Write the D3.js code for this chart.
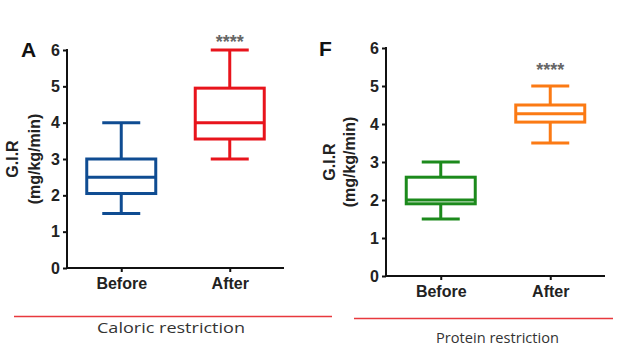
<!DOCTYPE html>
<html><head><meta charset="utf-8">
<script src="https://cdn.jsdelivr.net/npm/d3@7"></script>
<style>body{margin:0;background:#fff}svg{display:block}</style>
</head><body>
<svg id="c" width="622" height="360"></svg>
<script>
const groups = ["Before", "After"];
const yTicks = [0, 1, 2, 3, 4, 5, 6];
// box stats: [min, q1, median, q3, max]
const caloricStats = [[1.5, 2.05, 2.5, 3.0, 4.0], [3.0, 3.55, 4.0, 4.95, 6.0]];
const proteinStats = [[1.5, 1.9, 2.0, 2.6, 3.0], [3.5, 4.05, 4.27, 4.5, 5.0]];
const caloricColors = ["#0f4c92", "#e8141c"];
const proteinColors = ["#1c8a1c", "#fb7a14"];
const panelLetters = ["A", "F"];
const significance = ["****", "****"];
const captions = ["Caloric restriction", "Protein restriction"];
const yLabel = ["G.I.R", "(mg/kg/min)"];

const svg = d3.select("#c");

function panel(cfg) {
  const g = svg.append("g");
  const y = d3.scaleLinear().domain([0, 6]).range([cfg.y0, cfg.y6]);
  const x = d3.scalePoint().domain(groups).range([cfg.x0, cfg.x1]).padding(0.5);

  const ya = g.append("g").attr("transform", `translate(${cfg.x0},0)`)
    .call(d3.axisLeft(y).tickValues(yTicks).tickSize(4).tickPadding(3).tickFormat(d3.format("d")));
  const xa = g.append("g").attr("transform", `translate(0,${cfg.y0})`)
    .call(d3.axisBottom(x).tickSize(4).tickPadding(6));
  [ya, xa].forEach(a => {
    a.select(".domain").attr("stroke", "#111").attr("stroke-width", 2);
    a.selectAll(".tick line").attr("stroke", "#111").attr("stroke-width", 2);
    a.selectAll("text").attr("font-family", "Liberation Sans, Arial, sans-serif")
      .attr("font-weight", "bold").attr("fill", "#222");
  });
  ya.selectAll("text").attr("font-size", 16);
  xa.selectAll("text").attr("font-size", 16);
  ya.select(".domain").attr("d", `M0,${cfg.y0}V${cfg.y6 - 1}`);
  xa.select(".domain").attr("d", `M${cfg.x0 - 1},0H${cfg.x1}`);

  const bw = 69, cw = 38;
  cfg.stats.forEach((s, i) => {
    const cx = x(groups[i]);
    const c = cfg.colors[i];
    const b = g.append("g").attr("stroke", c).attr("stroke-width", 3).attr("fill", "none");
    b.append("line").attr("x1", cx).attr("x2", cx).attr("y1", y(s[0])).attr("y2", y(s[1]));
    b.append("line").attr("x1", cx).attr("x2", cx).attr("y1", y(s[3])).attr("y2", y(s[4]));
    b.append("line").attr("x1", cx - cw / 2).attr("x2", cx + cw / 2).attr("y1", y(s[0])).attr("y2", y(s[0]));
    b.append("line").attr("x1", cx - cw / 2).attr("x2", cx + cw / 2).attr("y1", y(s[4])).attr("y2", y(s[4]));
    b.append("rect").attr("x", cx - bw / 2).attr("width", bw).attr("y", y(s[3])).attr("height", y(s[1]) - y(s[3]));
    b.append("line").attr("x1", cx - bw / 2).attr("x2", cx + bw / 2).attr("y1", y(s[2])).attr("y2", y(s[2]));
  });

  g.append("text").attr("x", x("After")).attr("y", cfg.starY).attr("text-anchor", "middle")
    .attr("font-family", "Liberation Sans, Arial, sans-serif").attr("font-size", 18).attr("font-weight", "bold")
    .attr("fill", "#666").text(cfg.star);

  g.append("text").attr("x", cfg.letterX).attr("y", cfg.letterY)
    .attr("font-family", "Liberation Sans, Arial, sans-serif").attr("font-size", 21).attr("font-weight", "bold")
    .attr("fill", "#111").text(cfg.letter);

  const yc = (cfg.y0 + cfg.y6) / 2;
  yLabel.forEach((t, k) => {
    g.append("text").attr("transform", `translate(${cfg.labX[k]},${yc}) rotate(-90)`)
      .attr("text-anchor", "middle")
      .attr("font-family", "Liberation Sans, Arial, sans-serif").attr("font-size", 16).attr("font-weight", "bold")
      .attr("fill", "#222").text(t);
  });

  g.append("line").attr("x1", cfg.lineX0).attr("x2", cfg.lineX1).attr("y1", cfg.lineY).attr("y2", cfg.lineY)
    .attr("stroke", "#e8393d").attr("stroke-width", 1.5);
  g.append("text").attr("x", (cfg.lineX0 + cfg.lineX1) / 2 + cfg.capDx).attr("y", cfg.capY).attr("text-anchor", "middle")
    .attr("font-family", "Open Sans, sans-serif").attr("font-size", cfg.capSize).attr("fill", "#333")
    .attr("textLength", cfg.capLen).attr("lengthAdjust", "spacingAndGlyphs")
    .text(cfg.caption);
}

panel({x0: 67, x1: 284, y0: 268, y6: 50, stats: caloricStats, colors: caloricColors,
  star: significance[0], starY: 48, letter: panelLetters[0], letterX: 21, letterY: 57, labX: [18, 40],
  lineX0: 14, lineX1: 332, lineY: 316.5, capY: 333, capDx: -2, capSize: 15, capLen: 148, caption: captions[0]});
panel({x0: 386, x1: 605, y0: 276, y6: 48, stats: proteinStats, colors: proteinColors,
  star: significance[1], starY: 76, letter: panelLetters[1], letterX: 319, letterY: 56, labX: [335, 355],
  lineX0: 354, lineX1: 613, lineY: 318.5, capY: 343, capDx: 14, capSize: 15, capLen: 123, caption: captions[1]});
</script>
</body></html>
